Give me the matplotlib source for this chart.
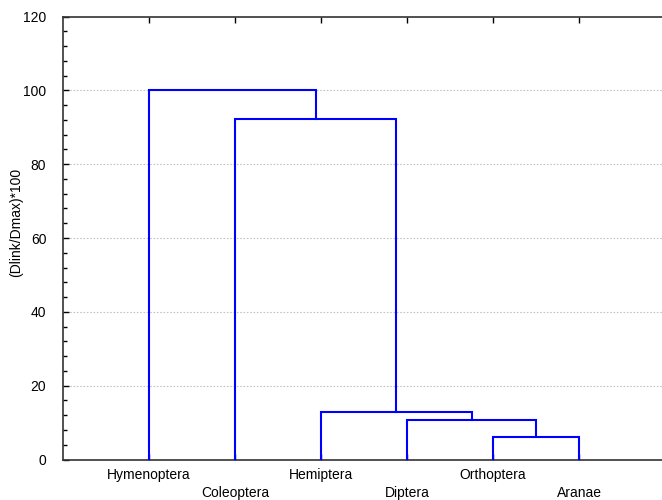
import matplotlib
matplotlib.use("Agg")
import matplotlib.pyplot as plt

# Data
leaf_labels = ["Hymenoptera", "Coleoptera", "Hemiptera", "Diptera", "Orthoptera", "Aranae"]
# merges: (left member, right member, linkage distance); members are leaf indices or "cN" cluster ids
merge_left = [4, 3, 2, 1, 0]
merge_right = [5, "c0", "c1", "c2", "c3"]
merge_height = [6.2, 10.8, 12.9, 92.2, 100.0]
y_ticks = [0, 20, 40, 60, 80, 100, 120]
y_label = "(Dlink/Dmax)*100"

FONT = "Liberation Sans"
W, H = 662, 500
fig = plt.figure(figsize=(W / 100, H / 100), dpi=100)
left_px, right_px, top_px, bot_px = 63, 662, 16.5, 459.5
ax = fig.add_axes([left_px / W, 1 - bot_px / H, (right_px - left_px) / W, (bot_px - top_px) / H])

leaf_pos = list(range(1, len(leaf_labels) + 1))
px_per_leaf = 86.0
ax.set_xlim(0, (right_px - left_px) / px_per_leaf)
ax.set_ylim(0, 120)

# compute dendrogram links from the merge data
pos = {i: (leaf_pos[i], 0.0) for i in range(len(leaf_labels))}
for k, (a, b, h) in enumerate(zip(merge_left, merge_right, merge_height)):
    xa, ya = pos[a]
    xb, yb = pos[b]
    ax.plot([xa, xa, xb, xb], [ya, h, h, yb], color="#0000ff", lw=1.5,
            solid_joinstyle="miter", zorder=3)
    pos["c%d" % k] = ((xa + xb) / 2, h)

# grid
for yv in y_ticks[1:-1]:
    ax.axhline(yv, color="#c4c4c4", lw=0.8, ls=(0, (1.5, 1.5)), zorder=1)

ax.set_yticks(y_ticks)
ax.set_yticklabels([str(v) for v in y_ticks], fontfamily=FONT, fontsize=10)
ax.set_yticks([v for v in range(0, 121, 4) if v % 20 != 0], minor=True)
ax.tick_params(axis="y", which="major", direction="in", length=4, pad=12, width=1)
ax.tick_params(axis="y", which="minor", direction="in", length=3, width=1)

ax.set_xticks(leaf_pos)
ax.set_xticklabels([])
ax.tick_params(axis="x", which="both", direction="in", length=4, top=True, bottom=True, width=1)

for s in ["left", "top", "bottom"]:
    ax.spines[s].set_color("#333333")
    ax.spines[s].set_linewidth(1.2)
ax.spines["right"].set_visible(False)

# alternating leaf labels
for i, (xp, lab) in enumerate(zip(leaf_pos, leaf_labels)):
    ypx = 475 if i % 2 == 0 else 493
    xfig = (left_px + xp * px_per_leaf) / W
    fig.text(xfig, 1 - ypx / H, lab, ha="center", va="center", fontfamily=FONT, fontsize=10)

fig.text(16 / W, 1 - 222 / H, y_label, rotation=90, ha="center", va="center",
         fontfamily=FONT, fontsize=10)

fig.savefig("out.png", dpi=100)
